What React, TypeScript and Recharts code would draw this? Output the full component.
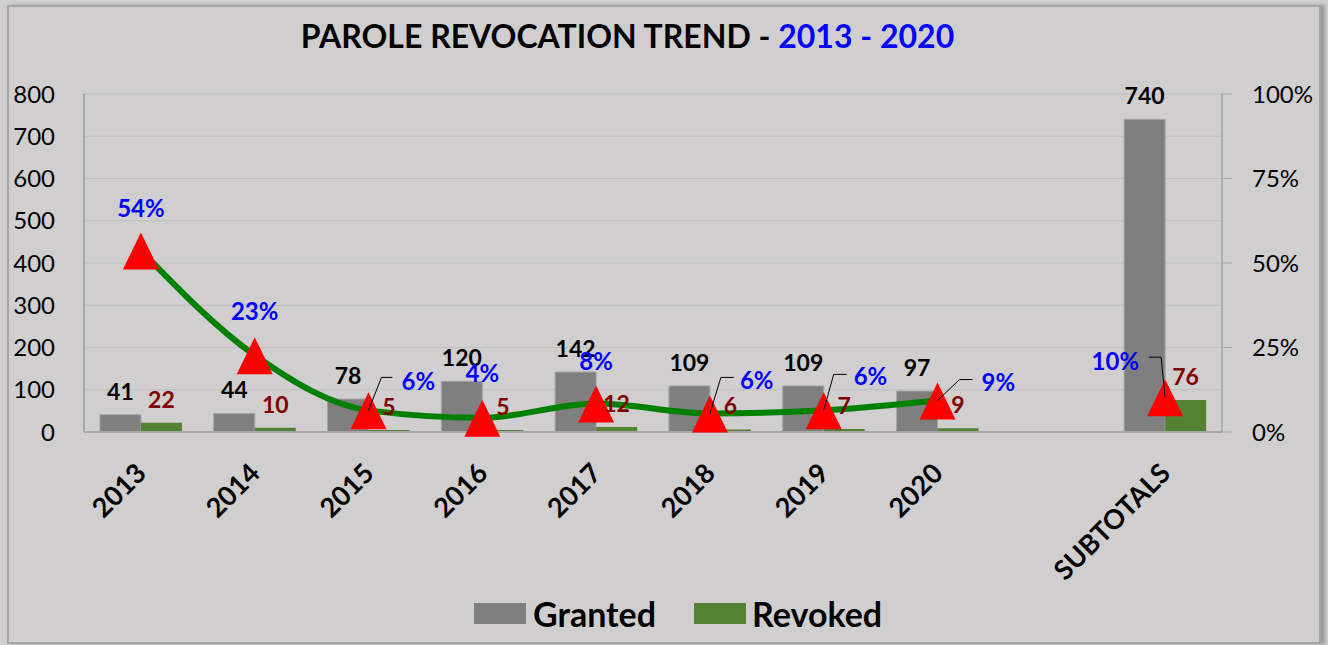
import React from 'react';
import {
  ComposedChart,
  Bar,
  Line,
  XAxis,
  YAxis,
  CartesianGrid,
  Legend,
  LabelList,
} from 'recharts';

const categories = ['2013', '2014', '2015', '2016', '2017', '2018', '2019', '2020', '', 'SUBTOTALS'];
const granted = [41, 44, 78, 120, 142, 109, 109, 97, null, 740];
const revoked = [22, 10, 5, 5, 12, 6, 7, 9, null, 76];
const revocationRate = [0.537, 0.227, 0.064, 0.042, 0.0845, 0.055, 0.064, 0.093, null, 0.103];

const countTicks = [0, 100, 200, 300, 400, 500, 600, 700, 800];
const rateTicks = [0, 0.25, 0.5, 0.75, 1];

// where each percent label sits relative to its marker (and its leader line, if any)
const rateLabelPlacement = [
  { dx: 0, dy: -43 },
  { dx: 0, dy: -45 },
  { dx: 33, dy: -30, elbow: [13, -33], end: [24, -33] },
  { dx: 0, dy: -45 },
  { dx: 0, dy: -43 },
  { dx: 30, dy: -34, elbow: [11, -36], end: [24, -36] },
  { dx: 30, dy: -35, elbow: [10, -36], end: [23, -36] },
  { dx: 44, dy: -19, elbow: [22, -21], end: [35, -21] },
  null,
  { dx: -26, dy: -37, elbow: [-4, -40], end: [-16, -40] },
];

const data = categories.map((category, i) => ({
  category,
  granted: granted[i],
  revoked: revoked[i],
  rate: revocationRate[i],
}));

const FONT = 'Lato, "Open Sans", sans-serif';
const GRANTED_COLOR = '#7f7f7f';
const REVOKED_COLOR = '#548235';
const AXIS_COLOR = '#a6a6a6';

const YearTick = ({ x, y, payload }: any) => {
  const tx = x + 7;
  const ty = y + 43;
  return (
    <text
      x={tx}
      y={ty}
      transform={`rotate(-45, ${tx}, ${ty})`}
      textAnchor="end"
      fontFamily={FONT}
      fontWeight="bold"
      fontSize={27}
      fill="#000"
    >
      {payload.value}
    </text>
  );
};

const TriangleDot = (props: any) => {
  const { cx, cy, value, index } = props;
  if (cx == null || cy == null || value == null) return <g key={`dot-${index}`} />;
  return (
    <polygon
      key={`dot-${index}`}
      points={`${cx},${cy - 18} ${cx - 18},${cy + 19} ${cx + 18},${cy + 19}`}
      fill="#ff0000"
    />
  );
};

const RateLabel = (props: any) => {
  const { x, y, value, index } = props;
  const place = rateLabelPlacement[index];
  if (value == null || x == null || y == null || !place) return null;
  const text = `${Math.round(value * 100)}%`;
  const anchor = place.dx > 0 ? 'start' : place.dx < 0 ? 'end' : 'middle';
  return (
    <g>
      {place.elbow && (
        <polyline
          points={`${x},${y} ${x + place.elbow[0]},${y + place.elbow[1]} ${x + place.end[0]},${y + place.end[1]}`}
          fill="none"
          stroke="#000"
          strokeWidth={1}
        />
      )}
      <text
        x={x + place.dx}
        y={y + place.dy}
        textAnchor={anchor}
        dominantBaseline="central"
        fontFamily={FONT}
        fontWeight="bold"
        fontSize={24}
        fill="#0000ff"
      >
        {text}
      </text>
    </g>
  );
};

const LegendContent = () => (
  <div
    style={{
      display: 'flex',
      alignItems: 'center',
      height: 40,
      paddingLeft: 474,
      fontFamily: FONT,
      fontWeight: 'bold',
      fontSize: 34,
      color: '#000',
    }}
  >
    <span style={{ width: 52, height: 21, background: GRANTED_COLOR, marginRight: 7 }} />
    <span style={{ marginRight: 38 }}>Granted</span>
    <span style={{ width: 52, height: 21, background: REVOKED_COLOR, marginRight: 6 }} />
    <span>Revoked</span>
  </div>
);

const App: React.FC = () => {
  return (
    <div
      style={{
        position: 'absolute',
        left: 0,
        top: 0,
        width: 1328,
        height: 645,
        background: '#d0cecf',
        overflow: 'hidden',
      }}
    >
      <div
        style={{
          position: 'absolute',
          left: 7,
          top: 5,
          width: 1314,
          height: 639,
          boxSizing: 'border-box',
          border: '2px solid #a6a6a6',
          boxShadow: '4px 0 3px #9a9a9a',
        }}
      />
      <div
        style={{
          position: 'absolute',
          left: 0,
          top: 16,
          width: 1255,
          textAlign: 'center',
          fontFamily: FONT,
          fontWeight: 'bold',
          fontSize: 32,
          color: '#000',
          whiteSpace: 'nowrap',
        }}
      >
        PAROLE REVOCATION TREND - <span style={{ color: '#0000ff' }}>2013 - 2020</span>
      </div>
      <div style={{ position: 'absolute', left: 0, top: 0 }}>
        <ComposedChart
          width={1328}
          height={645}
          data={data}
          margin={{ top: 94, right: 0, left: 0, bottom: 12 }}
          barCategoryGap="14%"
          barGap={0}
        >
          <CartesianGrid yAxisId="left" vertical={false} stroke="#bfbfbf" />
          <XAxis
            dataKey="category"
            interval={0}
            tickLine={false}
            tickSize={0}
            tickMargin={0}
            axisLine={{ stroke: AXIS_COLOR, strokeWidth: 2 }}
            height={161}
            tick={<YearTick />}
          />
          <YAxis
            yAxisId="left"
            domain={[0, 800]}
            ticks={countTicks}
            width={84}
            tickLine={false}
            tickSize={0}
            tickMargin={29}
            axisLine={{ stroke: AXIS_COLOR, strokeWidth: 2 }}
            tick={{ fill: '#000', fontSize: 24, fontFamily: FONT }}
          />
          <YAxis
            yAxisId="right"
            orientation="right"
            domain={[0, 1]}
            ticks={rateTicks}
            width={106}
            tickSize={10}
            tickMargin={20}
            tickLine={{ stroke: AXIS_COLOR }}
            axisLine={{ stroke: AXIS_COLOR, strokeWidth: 1.5 }}
            tickFormatter={(v: number) => `${Math.round(v * 100)}%`}
            tick={{ fill: '#000', fontSize: 24, fontFamily: FONT }}
          />
          <Legend verticalAlign="bottom" wrapperStyle={{ left: 0, width: 1328 }} content={<LegendContent />} />
          <Bar
            yAxisId="left"
            dataKey="granted"
            name="Granted"
            fill={GRANTED_COLOR}
            stroke="#a6a6a6"
            strokeWidth={1}
            isAnimationActive={false}
          >
            <LabelList
              dataKey="granted"
              position="top"
              offset={15}
              fill="#000"
              fontFamily={FONT}
              fontWeight="bold"
              fontSize={23}
              formatter={(v: any) => (v == null ? '' : v)}
            />
          </Bar>
          <Bar
            yAxisId="left"
            dataKey="revoked"
            name="Revoked"
            fill={REVOKED_COLOR}
            isAnimationActive={false}
          >
            <LabelList
              dataKey="revoked"
              position="top"
              offset={15}
              fill="#800000"
              fontFamily={FONT}
              fontWeight="bold"
              fontSize={23}
              formatter={(v: any) => (v == null ? '' : v)}
            />
          </Bar>
          <Line
            yAxisId="right"
            dataKey="rate"
            type="monotone"
            stroke="#008000"
            strokeWidth={6}
            connectNulls={false}
            dot={TriangleDot}
            activeDot={false}
            legendType="none"
            isAnimationActive={false}
          >
            <LabelList dataKey="rate" content={<RateLabel />} />
          </Line>
        </ComposedChart>
      </div>
    </div>
  );
};

export default App;
